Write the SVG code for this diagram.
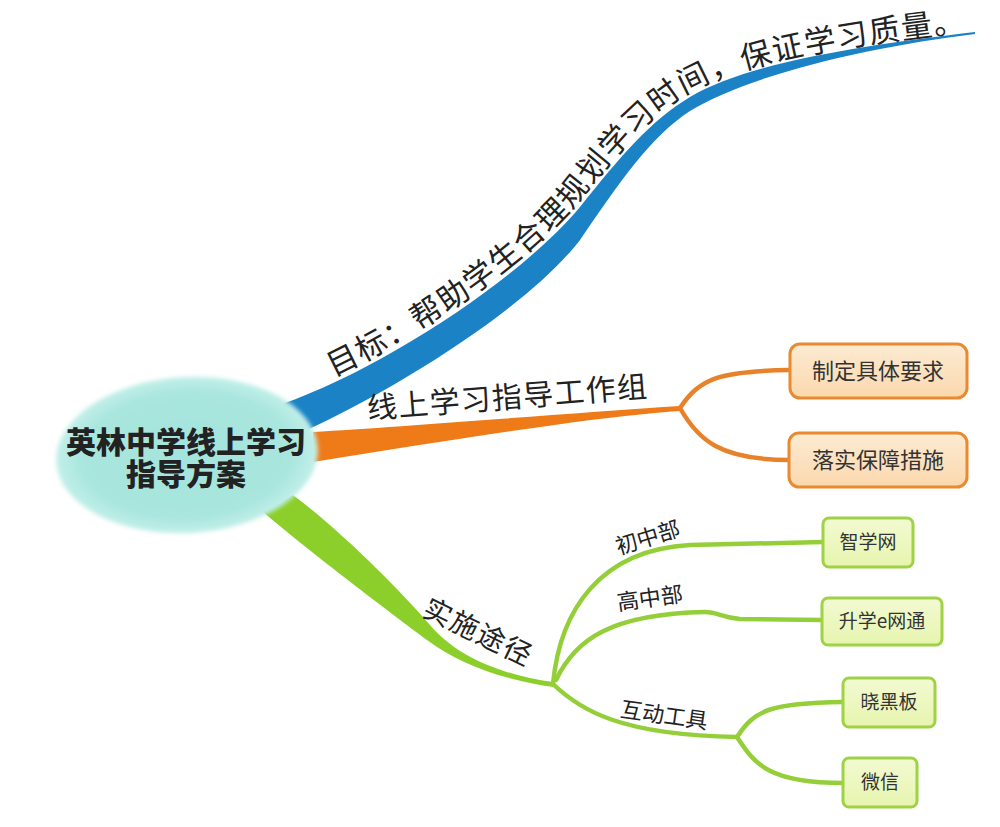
<svg xmlns="http://www.w3.org/2000/svg" width="1000" height="827" viewBox="0 0 1000 827">
<defs>
<radialGradient id="blobG" cx="0.5" cy="0.5" r="0.5">
<stop offset="0" stop-color="#a3e4dc"/>
<stop offset="0.8" stop-color="#a9e6de"/>
<stop offset="1" stop-color="#c2efe9"/>
</radialGradient>
<linearGradient id="orBox" x1="0" y1="0" x2="0" y2="1">
<stop offset="0" stop-color="#fdebd2"/>
<stop offset="1" stop-color="#fbd8ad"/>
</linearGradient>
<linearGradient id="grBox" x1="0" y1="0" x2="0" y2="1">
<stop offset="0" stop-color="#f3fad2"/>
<stop offset="1" stop-color="#e6f5ae"/>
</linearGradient>
<filter id="soft" x="-10%" y="-10%" width="120%" height="120%">
<feGaussianBlur stdDeviation="2"/>
</filter>
<path id="blueTextPath" d="M280,399 C380,364 518,274 578,202 C618,152 648,116 688,93 C748,58 873,42 973,31"/>
</defs>
<style>
.lbl{font-family:"Noto Sans CJK SC","Noto Sans",sans-serif;fill:#222;}
.bt{font-family:"Noto Sans CJK SC","Noto Sans",sans-serif;fill:#222;font-size:31px;letter-spacing:1.4px;}
.box-t{font-family:"Noto Sans CJK SC","Noto Sans",sans-serif;fill:#333;text-anchor:middle;}
.obox{fill:url(#orBox);stroke:#e98a30;stroke-width:3;}
.gbox{fill:url(#grBox);stroke:#9fd244;stroke-width:3;}
.oc{fill:none;stroke:#e8822a;stroke-width:4.5;stroke-linecap:round;}
.gc{fill:none;stroke:#94cf3a;stroke-width:4.5;stroke-linecap:round;}
</style>
<rect width="1000" height="827" fill="#ffffff"/>

<g id="connectors">
<path id="blue-band" d="M282,404 C382,369 520,279 580,207 C620,157 650,121 690,97 C750,61 875,44 975,32 L975,34 C875,46 750,74 690,111 C650,137 620,182 580,240 C530,305 400,388 300,433 Z" fill="#1b82c6"/>
<path id="orange-band" d="M313,432 C400,427 560,414 680,406 L680,411 C600,416 450,440 313,462 Z" fill="#ef7a18"/>
<path id="green-band" d="M293,495 C340,530 400,590 430,625 C455,655 500,675 553,682 L553,687 C505,680 460,665 427,640 C400,620 320,560 263,512 Z" fill="#8ccf2a"/>
<path class="oc" d="M680,408 C700,378 720,371 790,370"/>
<path class="oc" d="M680,408 C698,440 720,460 790,460"/>
<path class="gc" d="M553,684 C560,610 600,550 690,545 L823,542"/>
<path class="gc" d="M556,680 C575,640 610,614 705,612 C718,612 722,618 740,619 L822,620"/>
<path class="gc" d="M553,684 C580,710 620,735 737,737"/>
<path class="gc" d="M737,737 C755,710 770,703 843,702"/>
<path class="gc" d="M737,737 C755,765 770,783 843,783"/>
<text class="bt"><textPath href="#blueTextPath" startOffset="58">目标：</textPath></text>
<text class="bt"><textPath href="#blueTextPath" startOffset="155.2">帮助学生合理</textPath></text>
<text class="bt"><textPath href="#blueTextPath" startOffset="349.6">规划学习时间，</textPath></text>
<text class="bt"><textPath href="#blueTextPath" startOffset="576.4">保证学习质量。</textPath></text>
<text class="lbl" font-size="30" letter-spacing="1.3" x="368" y="419" transform="rotate(-4.5 368 419)">线上学习指导工作组</text>
<text class="lbl" font-size="28" letter-spacing="1.5" x="474" y="641" text-anchor="middle" transform="rotate(26 474 641)">实施途径</text>
<text class="lbl" font-size="22" x="650" y="545" text-anchor="middle" transform="rotate(-17 650 545)">初中部</text>
<text class="lbl" font-size="22" x="651" y="606" text-anchor="middle" transform="rotate(-8 651 606)">高中部</text>
<text class="lbl" font-size="22" x="663" y="723" text-anchor="middle" transform="rotate(8 663 723)">互动工具</text>
</g>

<g id="center">
<ellipse cx="187" cy="455" rx="131" ry="78" fill="url(#blobG)" filter="url(#soft)" transform="rotate(-3 187 455)"/>
<text class="lbl" font-size="30" font-weight="900" text-anchor="middle" fill="#1d2b2b"><tspan x="186" y="453">英林中学线上学习</tspan><tspan x="186" y="485">指导方案</tspan></text>
</g>

<g id="node-zhiding">
<rect class="obox" x="790" y="344" width="177" height="54" rx="10"/>
<text class="box-t" font-size="22" x="878" y="379">制定具体要求</text>
</g>
<g id="node-luoshi">
<rect class="obox" x="789" y="433" width="178" height="54" rx="10"/>
<text class="box-t" font-size="22" x="878" y="468">落实保障措施</text>
</g>
<g id="node-zhixue">
<rect class="gbox" x="823" y="518" width="90" height="49" rx="6"/>
<text class="box-t" font-size="19" x="868" y="549">智学网</text>
</g>
<g id="node-shengxue">
<rect class="gbox" x="822" y="598" width="120" height="47" rx="6"/>
<text class="box-t" font-size="19" x="882" y="628">升学e网通</text>
</g>
<g id="node-xiaoheiban">
<rect class="gbox" x="843" y="678" width="92" height="49" rx="6"/>
<text class="box-t" font-size="19" x="889" y="709">晓黑板</text>
</g>
<g id="node-weixin">
<rect class="gbox" x="843" y="758" width="74" height="49" rx="6"/>
<text class="box-t" font-size="19" x="880" y="789">微信</text>
</g>
</svg>
